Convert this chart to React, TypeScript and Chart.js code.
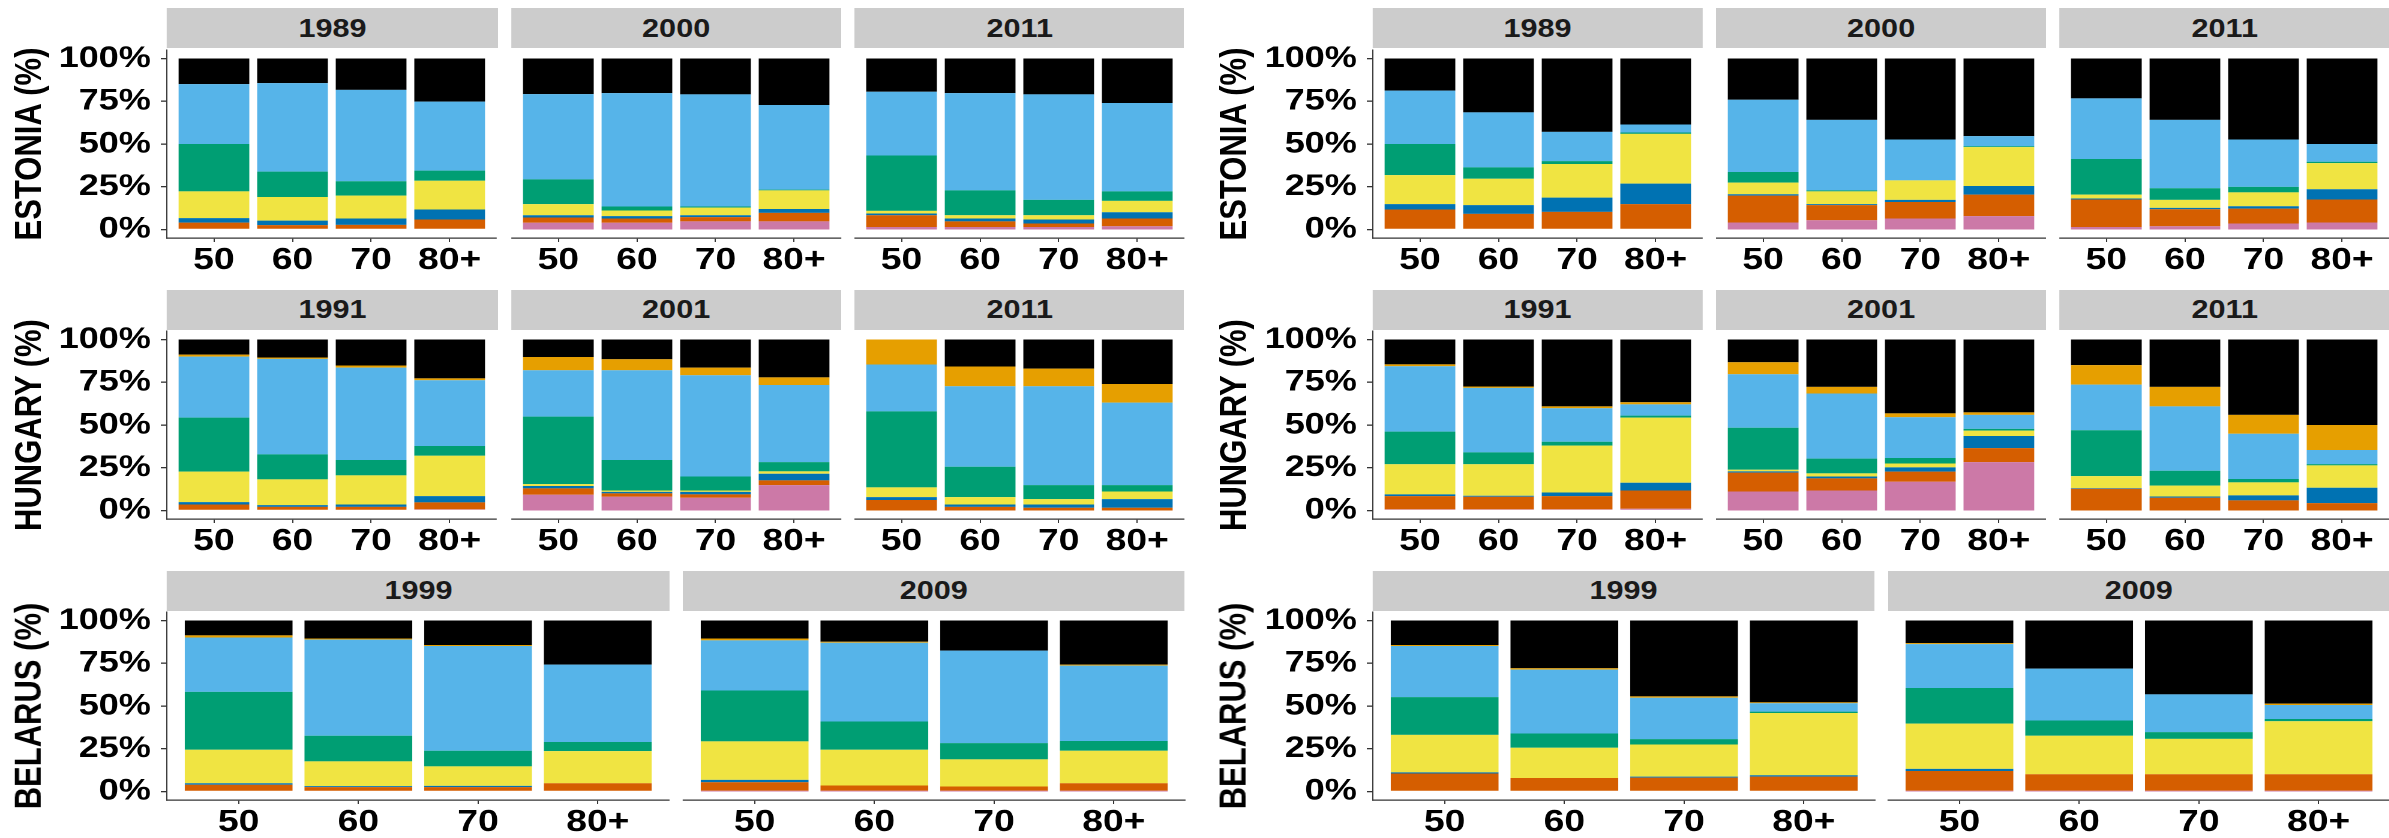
import React, { useEffect, useRef } from 'react';
import { Chart, registerables } from 'chart.js';

Chart.register(...registerables);

// Age groups on every x axis
const AGE_GROUPS = ['50', '60', '70', '80+'];

// Stack colours, bottom to top
const SEGMENT_COLORS = ['#CC79A7', '#D55E00', '#0072B2', '#F0E442', '#009E73', '#56B4E9', '#E69F00', '#000000'];

// Y axis ticks (%)
const Y_TICKS = [0, 25, 50, 75, 100];

// Shares (%) per age group (rows: 50, 60, 70, 80+), segments bottom to top in SEGMENT_COLORS order
const estoniaA1989 = [
  [0, 4, 2.6, 15.7, 27.7, 35, 0, 15],
  [0, 2.5, 2.7, 13.8, 14.8, 51.8, 0, 14.4],
  [0, 2.7, 3.7, 13.4, 8.4, 53.5, 0, 18.3],
  [0, 5.8, 5.9, 16.8, 5.9, 40.4, 0, 25.2],
];
const estoniaA2000 = [
  [3.9, 3.1, 1.3, 6.5, 14.5, 49.9, 0, 20.8],
  [3.9, 2.5, 1.4, 3.3, 2.3, 66.4, 0, 20.2],
  [4.7, 2.5, 1.1, 4.5, 0.6, 65.6, 0, 21],
  [4.7, 5, 2.3, 10.9, 0.4, 49.5, 0, 27.2],
];
const estoniaA2011 = [
  [1.4, 6.9, 1, 1.6, 32.4, 37.3, 0, 19.4],
  [1.4, 3.3, 1.7, 1.9, 14.6, 56.9, 0, 20.2],
  [1.4, 2.1, 2.3, 2.5, 9, 61.7, 0, 21],
  [1.9, 4.5, 3.7, 6.6, 5.6, 51.7, 0, 26],
];
const estoniaB1989 = [
  [0, 11.7, 3.1, 17, 18.2, 31.2, 0, 18.8],
  [0, 9.1, 5.1, 15.5, 6.6, 32.2, 0, 31.5],
  [0, 10.3, 8.3, 19.7, 1.7, 17.1, 0, 42.9],
  [0, 14.8, 12, 29.1, 0.8, 4.7, 0, 38.6],
];
const estoniaB2000 = [
  [4.1, 15.7, 0.8, 6.8, 6.2, 42.3, 0, 24.1],
  [5.4, 8.8, 0.6, 7.5, 0.6, 41.2, 0, 35.9],
  [6.4, 9.7, 1.2, 11.4, 0, 23.9, 0, 47.4],
  [7.8, 12.6, 5, 22.8, 0.5, 5.9, 0, 45.4],
];
const estoniaB2011 = [
  [1.4, 16.1, 0.6, 2.3, 20.8, 35.5, 0, 23.3],
  [1.9, 9.9, 0.8, 4.7, 6.8, 40, 0, 35.9],
  [3.5, 8.7, 1.4, 8.1, 3.2, 27.7, 0, 47.4],
  [4.1, 13.4, 6, 15.3, 0.8, 10.4, 0, 50],
];

const hungaryA1991 = [
  [0.4, 3.1, 1.4, 17.8, 31.6, 35.7, 1.2, 8.8],
  [0.4, 1.7, 1, 15.1, 14.6, 55.9, 0.8, 10.5],
  [0.4, 1.7, 1.4, 17, 9, 54.1, 1.2, 15.2],
  [0.6, 4.1, 3.7, 23.6, 5.7, 38.5, 1.1, 22.7],
];
const hungaryA2001 = [
  [9.2, 3.7, 1.4, 1.1, 39.5, 27.1, 7.8, 10.2],
  [8, 2, 0.9, 0.8, 17.8, 52.5, 6.5, 11.5],
  [7.4, 2, 1.5, 0.8, 8.2, 59.2, 4.5, 16.4],
  [14.8, 2.8, 3.9, 1.4, 5.4, 45.1, 4.5, 22.1],
];
const hungaryA2011 = [
  [0, 6.1, 1.7, 5.7, 44.5, 27.4, 14.6, 0],
  [0, 2.1, 1.4, 4.3, 17.8, 47.1, 11.5, 15.8],
  [0, 1.6, 1.9, 3.1, 8.2, 57.9, 10.3, 17],
  [0, 1.6, 5, 4.5, 3.7, 48.3, 10.9, 26],
];
const hungaryB1991 = [
  [0.6, 7.8, 1, 17.6, 19.1, 38.3, 1.1, 14.5],
  [0.6, 7.4, 0.6, 18.4, 7, 37.7, 0.8, 27.5],
  [0.6, 7.8, 2.1, 27.4, 2.3, 19.6, 1.1, 39.1],
  [1, 10.7, 4.5, 38.1, 1.2, 6.6, 1.2, 36.7],
];
const hungaryB2001 = [
  [11.1, 11, 0.8, 0.9, 24.6, 31.3, 7, 13.3],
  [11.7, 7.1, 1.1, 1.8, 8.6, 38.1, 3.9, 27.7],
  [16.8, 5.9, 2.5, 2.3, 3.2, 23.8, 2.3, 43.2],
  [28.3, 8.2, 7.1, 3.1, 1, 8.2, 1.5, 42.6],
];
const hungaryB2011 = [
  [0, 12.7, 0.4, 7, 26.8, 26.7, 11.4, 15],
  [0, 7.4, 0.8, 6.3, 8.7, 37.7, 11.4, 27.7],
  [0, 5.9, 2.9, 7.6, 2, 26.5, 11, 44.1],
  [0, 4.3, 9, 13.1, 0.7, 8.3, 14.6, 50],
];

const belarusA1999 = [
  [0.4, 3.5, 0.9, 19.6, 33.9, 31.8, 1.2, 8.7],
  [0.4, 2.1, 0.6, 14.5, 15, 56.2, 0.7, 10.5],
  [0.4, 2.1, 0.8, 11.4, 9.1, 61.3, 0.6, 14.3],
  [0.4, 4.4, 0, 18.8, 5.3, 45.3, 0, 25.8],
];
const belarusA2009 = [
  [0.4, 5, 1.4, 22.5, 29.8, 29.3, 1.1, 10.5],
  [0.4, 3.1, 0, 20.9, 16.5, 46.1, 0.6, 12.4],
  [0.4, 2.5, 0, 15.9, 9.5, 54.1, 0, 17.6],
  [0.4, 4.4, 0, 19, 5.7, 44.1, 0.6, 25.8],
];
const belarusB1999 = [
  [0.4, 10.1, 0.7, 21.9, 22.1, 29.9, 0.6, 14.3],
  [0.4, 7.5, 0, 17.7, 8.3, 37.4, 0.8, 27.9],
  [0.4, 7.7, 0.6, 18.8, 3.1, 24.2, 0.8, 44.4],
  [0.4, 8.3, 0.8, 36.4, 0.8, 4.9, 0.5, 47.9],
];
const belarusB2009 = [
  [0.4, 11.6, 1.2, 26.5, 20.8, 25.7, 0.6, 13.2],
  [0.4, 9.7, 0, 22.5, 8.9, 30.4, 0, 28.1],
  [0.4, 9.7, 0, 20.7, 3.9, 22.1, 0, 43.2],
  [0.4, 9.7, 0, 31, 1.3, 8.2, 0.8, 48.6],
];

const COUNTRY_TITLES = ['ESTONIA (%)', 'HUNGARY (%)', 'BELARUS (%)'];
const ESTONIA_YEARS = ['1989', '2000', '2011'];
const HUNGARY_YEARS = ['1991', '2001', '2011'];
const BELARUS_YEARS = ['1999', '2009'];

const PANEL_ROWS = [
  { title: COUNTRY_TITLES[0], years: ESTONIA_YEARS, a: [estoniaA1989, estoniaA2000, estoniaA2011], b: [estoniaB1989, estoniaB2000, estoniaB2011] },
  { title: COUNTRY_TITLES[1], years: HUNGARY_YEARS, a: [hungaryA1991, hungaryA2001, hungaryA2011], b: [hungaryB1991, hungaryB2001, hungaryB2011] },
  { title: COUNTRY_TITLES[2], years: BELARUS_YEARS, a: [belarusA1999, belarusA2009], b: [belarusB1999, belarusB2009] },
];

// Geometry (page pixels). The whole figure is drawn narrower and stretched horizontally by S.
const S = 1.2;
const PAGE_W = 2389;
const PAGE_H = 838;
const HALF_OFFSETS = [0, 1205];
const PANEL_LEFT = 167.3;
const PANEL_SPAN = 1017.7;
const FACET_GAP = 13.1;
const ROW_TOPS = [8.3, 289.5, 570.7];
const STRIP_H = 40;
const PANEL_OFFSET = 41.5;
const PANEL_H = 187.8;
const Y_AXIS_W = 150;
const TITLE_DX = 139;
const PAD_TOP = 34;
const X_AXIS_H = 50;
const AXIS_COLOR = '#333333';
const FONT_FAMILY = "'Liberation Sans', Arial, Helvetica, sans-serif";

type FacetProps = {
  shares: number[][];
  left: number;
  top: number;
  width: number;
  withAxis: boolean;
};

function Facet({ shares, left, top, width, withAxis }: FacetProps) {
  const ref = useRef<HTMLCanvasElement | null>(null);
  const axisW = withAxis ? Y_AXIS_W : 0;
  const cw = Math.round((width + axisW) / S);
  const ch = Math.round(PAD_TOP + PANEL_H + X_AXIS_H);

  useEffect(() => {
    if (!ref.current) return;
    const chart = new Chart(ref.current, {
      type: 'bar',
      data: {
        datasets: SEGMENT_COLORS.map((color, k) => ({
          data: AGE_GROUPS.map((_, i) => ({ x: i + 1, y: shares[i][k] })),
          backgroundColor: color,
          borderWidth: 0,
          categoryPercentage: 0.9,
          barPercentage: 1,
        })),
      },
      options: {
        responsive: false,
        animation: false,
        devicePixelRatio: 2,
        events: [],
        layout: { autoPadding: false, padding: { top: PAD_TOP, left: 0, right: 0, bottom: 0 } },
        plugins: { legend: { display: false }, tooltip: { enabled: false }, title: { display: false } },
        scales: {
          x: {
            type: 'linear',
            min: 0.4,
            max: 4.6,
            offset: false,
            bounds: 'data',
            stacked: true,
            afterBuildTicks: (sc: any) => {
              sc.ticks = AGE_GROUPS.map((_, i) => ({ value: i + 1 }));
            },
            afterFit: (sc: any) => {
              sc.height = X_AXIS_H;
            },
            grid: {
              display: true,
              offset: false,
              drawOnChartArea: false,
              drawTicks: true,
              tickLength: 4,
              color: AXIS_COLOR,
              lineWidth: 1.2 / S,
            },
            border: { display: true, color: AXIS_COLOR, width: 1.3 },
            ticks: {
              autoSkip: false,
              maxRotation: 0,
              minRotation: 0,
              padding: 0,
              color: '#000000',
              font: { family: FONT_FAMILY, size: 31, weight: 'bold' },
              callback: (v: any) => AGE_GROUPS[Math.round(Number(v)) - 1] ?? '',
            },
          },
          y: {
            display: withAxis,
            min: -5,
            max: 105,
            stacked: true,
            afterBuildTicks: (sc: any) => {
              sc.ticks = Y_TICKS.map((v) => ({ value: v }));
            },
            afterFit: (sc: any) => {
              sc.width = axisW / S;
            },
            grid: {
              display: true,
              drawOnChartArea: false,
              drawTicks: true,
              tickLength: 6 / S,
              color: AXIS_COLOR,
              lineWidth: 1.3,
            },
            border: { display: true, color: AXIS_COLOR, width: 1.2 / S },
            ticks: {
              autoSkip: false,
              padding: 10 / S,
              color: '#000000',
              font: { family: FONT_FAMILY, size: 30, weight: 'bold' },
              callback: (v: any) => `${v}%`,
            },
          },
        },
      },
    } as any);
    return () => chart.destroy();
  }, [shares, withAxis, axisW]);

  return (
    <canvas
      ref={ref}
      width={cw}
      height={ch}
      style={{
        position: 'absolute',
        left: (left - axisW) / S,
        top: top - PAD_TOP,
        width: cw,
        height: ch,
      }}
    />
  );
}

function Strip({ label, left, top, width }: { label: string; left: number; top: number; width: number }) {
  return (
    <div
      style={{
        position: 'absolute',
        left: left / S,
        top,
        width: width / S,
        height: STRIP_H,
        background: '#CCCCCC',
        display: 'flex',
        alignItems: 'center',
        justifyContent: 'center',
        fontFamily: FONT_FAMILY,
        fontWeight: 'bold',
        fontSize: 25.5,
        lineHeight: 1,
        color: '#1A1A1A',
      }}
    >
      {label}
    </div>
  );
}

function AxisTitle({ text, cx, cy }: { text: string; cx: number; cy: number }) {
  const len = 300;
  const thick = 40;
  return (
    <div
      style={{
        position: 'absolute',
        left: cx / S - len / 2,
        top: cy - thick / 2,
        width: len,
        height: thick,
        lineHeight: `${thick}px`,
        textAlign: 'center',
        transform: 'rotate(-90deg)',
        transformOrigin: '50% 50%',
        fontFamily: FONT_FAMILY,
        fontWeight: 'bold',
        fontSize: 31,
        color: '#000000',
        whiteSpace: 'nowrap',
      }}
    >
      {text}
    </div>
  );
}

export default function App() {
  useEffect(() => {
    document.body.style.margin = '0';
    document.body.style.overflow = 'hidden';
  }, []);

  const items: React.ReactNode[] = [];
  PANEL_ROWS.forEach((row, r) => {
    const rowTop = ROW_TOPS[r];
    const panelTop = rowTop + PANEL_OFFSET;
    const n = row.years.length;
    const facetW = (PANEL_SPAN - FACET_GAP * (n - 1)) / n;
    [row.a, row.b].forEach((group, h) => {
      const base = HALF_OFFSETS[h] + PANEL_LEFT;
      items.push(
        <AxisTitle key={`t-${r}-${h}`} text={row.title} cx={base - TITLE_DX} cy={panelTop + PANEL_H / 2} />
      );
      group.forEach((shares, f) => {
        const left = base + f * (facetW + FACET_GAP);
        items.push(<Strip key={`s-${r}-${h}-${f}`} label={row.years[f]} left={left} top={rowTop} width={facetW} />);
        items.push(
          <Facet key={`f-${r}-${h}-${f}`} shares={shares} left={left} top={panelTop} width={facetW} withAxis={f === 0} />
        );
      });
    });
  });

  return (
    <div
      style={{
        position: 'absolute',
        left: 0,
        top: 0,
        width: PAGE_W / S,
        height: PAGE_H,
        background: '#FFFFFF',
        transform: `scaleX(${S})`,
        transformOrigin: '0 0',
        overflow: 'visible',
      }}
    >
      {items}
    </div>
  );
}
